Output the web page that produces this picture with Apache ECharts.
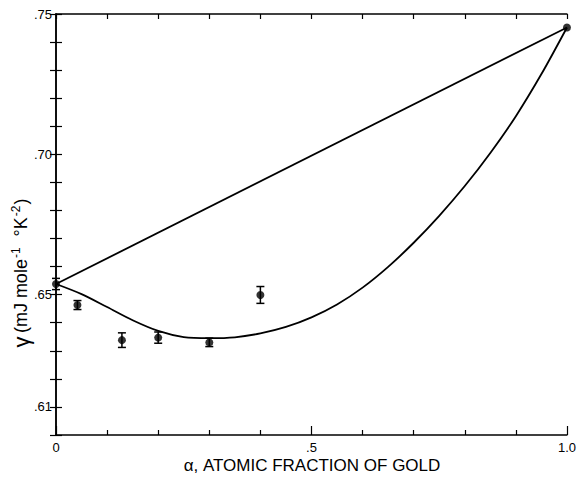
<!DOCTYPE html>
<html>
<head>
<meta charset="utf-8">
<script src="https://cdn.jsdelivr.net/npm/echarts@6/dist/echarts.min.js"></script>
<style>
html,body{margin:0;padding:0;background:#fff;}
#c{width:579px;height:478px;}
</style>
</head>
<body>
<div id="c"></div>
<script>
// Measured points (alpha, gamma, error)
const pointX = [0, 0.042, 0.129, 0.200, 0.300, 0.400, 1.0];
const pointY = [0.6538, 0.6463, 0.6338, 0.6347, 0.6330, 0.6499, 0.7452];
const pointErr = [0.002, 0.0016, 0.0026, 0.002, 0.0015, 0.003, 0];

// Straight line between end members
const lineX = [0, 1.0];
const lineY = [0.6538, 0.7452];

// Smooth curve
const curveX = [0, 0.05, 0.1, 0.15, 0.2, 0.25, 0.3, 0.35, 0.4, 0.45, 0.5, 0.55, 0.6, 0.65, 0.7, 0.75, 0.8, 0.85, 0.9, 0.95, 1.0];
const curveY = [0.6538, 0.6502, 0.6456, 0.6409, 0.6371, 0.6349, 0.6345, 0.6348, 0.6362, 0.6385, 0.6419, 0.6465, 0.6525, 0.6599, 0.6685, 0.6781, 0.6887, 0.7005, 0.7136, 0.7286, 0.7452];

// Tick labels
const xTickLabels = {0: '0', 5: '.5', 10: '1.0'};
const yTickLabels = {75: '.75', 70: '.70', 65: '.65', 61: '.61'};

const xLabel = 'α, ATOMIC FRACTION OF GOLD';

const FONT = '"Liberation Sans", Arial, sans-serif';
const chart = echarts.init(document.getElementById('c'), null, {renderer: 'svg'});

const axLine = {show: true, lineStyle: {color: '#000', width: 1.5}};

const option = {
  animation: false,
  backgroundColor: '#fff',
  grid: {left: 56, right: 12, top: 14, bottom: 43, containLabel: false},
  xAxis: [
    {
      type: 'value', position: 'bottom', min: 0, max: 1, interval: 0.5,
      axisLine: axLine,
      axisTick: {show: true, inside: true, length: 9, lineStyle: {color: '#000', width: 1.2}},
      minorTick: {show: true, splitNumber: 5, length: 5, lineStyle: {color: '#000', width: 1.2}},
      splitLine: {show: false},
      axisLabel: {
        color: '#000', fontFamily: FONT, fontSize: 13, margin: 6,
        formatter: v => { const k = Math.round(v * 10); return xTickLabels[k] || ''; }
      }
    },
    {
      type: 'value', position: 'top', min: 0, max: 1, interval: 0.1,
      axisLine: axLine,
      axisTick: {show: true, inside: true, length: 5, lineStyle: {color: '#000', width: 1.2}},
      splitLine: {show: false},
      axisLabel: {show: false}
    }
  ],
  yAxis: [
    {
      type: 'value', position: 'left', min: 0.60, max: 0.75, interval: 0.01,
      axisLine: axLine,
      axisTick: {show: true, inside: true, length: 6, lineStyle: {color: '#000', width: 1.2}},
      splitLine: {show: false},
      axisLabel: {
        color: '#000', fontFamily: FONT, fontSize: 13, margin: 4,
        formatter: v => { const k = Math.round(v * 100); return yTickLabels[k] || ''; }
      }
    },
    {
      type: 'value', position: 'right', min: 0.60, max: 0.75, interval: 0.01,
      axisLine: axLine,
      axisTick: {show: true, inside: true, length: 6, lineStyle: {color: '#000', width: 1.2}},
      splitLine: {show: false},
      axisLabel: {show: false}
    }
  ],
  graphic: [
    {
      type: 'text', x: 312, y: 457,
      style: {text: xLabel, fill: '#000', font: '17px ' + FONT, align: 'center', verticalAlign: 'top'}
    },
    {
      type: 'text', x: 21, y: 273, rotation: Math.PI / 2,
      style: {
        text: '{g|γ} {b|(mJ mole}{s|-1}{b|  °K}{s|-2}{b|)}',
        fill: '#000', align: 'center', verticalAlign: 'middle',
        rich: {
          g: {fontSize: 22, fontFamily: FONT, fill: '#000', verticalAlign: 'middle'},
          b: {fontSize: 18, fontFamily: FONT, fill: '#000', verticalAlign: 'middle'},
          s: {fontSize: 12, fontFamily: FONT, fill: '#000', verticalAlign: 'top', padding: [0, 1, 8, 1]}
        }
      }
    }
  ],
  series: [
    {
      type: 'line', data: lineX.map((x, i) => [x, lineY[i]]),
      symbol: 'none', lineStyle: {color: '#000', width: 1.8}, z: 2
    },
    {
      type: 'line', smooth: 0.3, data: curveX.map((x, i) => [x, curveY[i]]),
      symbol: 'none', lineStyle: {color: '#000', width: 1.8}, z: 2
    },
    {
      type: 'custom',
      data: pointX.map((x, i) => [x, pointY[i], pointErr[i]]),
      renderItem: function (params, api) {
        const x = api.value(0), y = api.value(1), e = api.value(2);
        if (!e) return null;
        const top = api.coord([x, y + e]);
        const bot = api.coord([x, y - e]);
        const w = 4;
        const st = {stroke: '#000', lineWidth: 1.5};
        return {
          type: 'group',
          children: [
            {type: 'line', shape: {x1: top[0], y1: top[1], x2: bot[0], y2: bot[1]}, style: st},
            {type: 'line', shape: {x1: top[0] - w, y1: top[1], x2: top[0] + w, y2: top[1]}, style: st},
            {type: 'line', shape: {x1: bot[0] - w, y1: bot[1], x2: bot[0] + w, y2: bot[1]}, style: st}
          ]
        };
      },
      z: 3
    },
    {
      type: 'scatter', data: pointX.map((x, i) => [x, pointY[i]]),
      symbol: 'circle', symbolSize: 8, itemStyle: {color: '#000'}, z: 4
    }
  ]
};
chart.setOption(option);
</script>
</body>
</html>
